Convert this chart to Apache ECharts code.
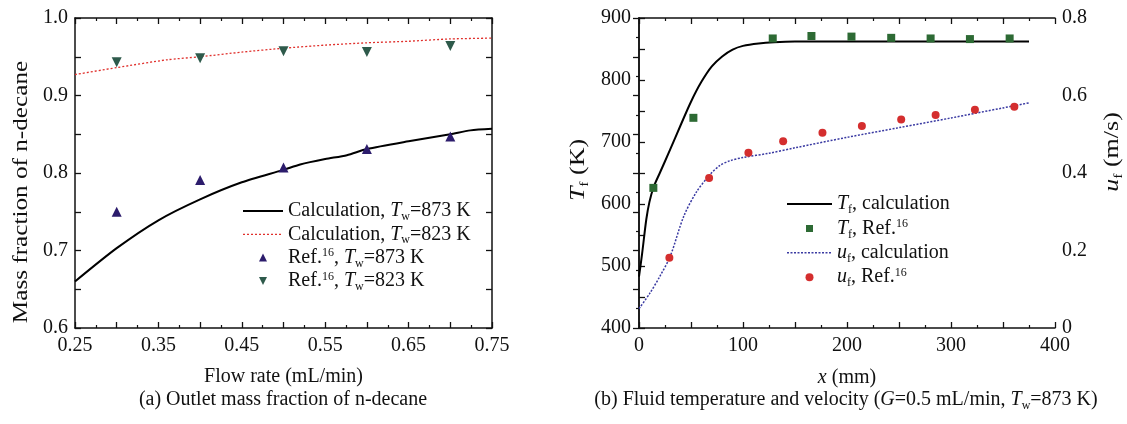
<!DOCTYPE html>
<html>
<head>
<meta charset="utf-8">
<script src="https://cdn.jsdelivr.net/npm/echarts@6/dist/echarts.min.js"></script>
<style>
html,body{margin:0;padding:0;background:#fff;}
#chart{width:1127px;height:424px;}
</style>
</head>
<body>
<div id="chart"></div>
<script>
// ---------- (a) Outlet mass fraction of n-decane ----------
const calc873Flow = [0.25, 0.30, 0.35, 0.40, 0.45, 0.50, 0.52, 0.55, 0.576, 0.60, 0.65, 0.70, 0.724, 0.75];
const calc873Mass = [0.660, 0.703, 0.739, 0.766, 0.788, 0.804, 0.811, 0.818, 0.823, 0.831, 0.841, 0.850, 0.855, 0.857];
const calc823Flow = [0.25, 0.30, 0.36, 0.40, 0.45, 0.50, 0.55, 0.60, 0.65, 0.70, 0.75];
const calc823Mass = [0.927, 0.936, 0.946, 0.950, 0.956, 0.961, 0.965, 0.968, 0.970, 0.973, 0.974];
const refFlow = [0.30, 0.40, 0.50, 0.60, 0.70];
const ref873Mass = [0.750, 0.791, 0.807, 0.831, 0.847];
const ref823Mass = [0.943, 0.948, 0.957, 0.956, 0.964];

// ---------- (b) Fluid temperature and velocity ----------
const tCalcX = [0, 3, 7, 10, 14, 20, 30, 40, 50, 60, 70, 80, 90, 100, 115, 130, 150, 250, 375];
const tCalcT = [483, 520, 575, 603, 627, 650, 688, 727, 765, 797, 822, 838, 849, 855, 859, 861, 862, 862, 862];
const tRefX = [13.8, 52.3, 128.6, 165.8, 204.3, 242.5, 280.4, 318.2, 356.4];
const tRefT = [626, 739, 867, 871, 870, 868, 867, 866, 867];
const uCalcX = [0, 10, 20, 30, 43, 55, 68, 78, 88, 100, 125, 150, 200, 250, 300, 350, 375];
const uCalcU = [0.050, 0.088, 0.133, 0.185, 0.288, 0.350, 0.395, 0.420, 0.432, 0.440, 0.451, 0.465, 0.492, 0.517, 0.542, 0.568, 0.581];
const uRefX = [29.2, 67.4, 105.2, 138.6, 176.4, 214.3, 252.1, 285.2, 323.0, 360.9];
const uRefU = [0.181, 0.387, 0.452, 0.482, 0.504, 0.521, 0.538, 0.550, 0.563, 0.571];

const FONT = 'Liberation Serif';
const INK = '#111';
const pairs = (xs, ys) => xs.map((x, i) => [x, ys[i]]);

function richSet(size) {
  return {
    i: {fontFamily: FONT, fontSize: size, fontStyle: 'italic', lineHeight: 22, color: INK},
    sub: {fontFamily: FONT, fontSize: Math.round(size * 0.6), lineHeight: 22, padding: [12, 0, 0, 0], color: INK},
    sup: {fontFamily: FONT, fontSize: Math.round(size * 0.6), lineHeight: 22, padding: [0, 0, 9, 0], color: INK}
  };
}

// legend icon paths (corner slivers fix the icon box so shapes keep their size)
function box(w, h) { return `M0,0 L0.01,0 L0,0.01 Z M${w},${h} L${w - 0.01},${h} L${w},${h - 0.01} Z`; }
function solidIcon(w, h, t) {
  return 'path://' + box(w, h) + ` M0,${(h - t) / 2} L${w},${(h - t) / 2} L${w},${(h + t) / 2} L0,${(h + t) / 2} Z`;
}
function dottedIcon(w, h, t, d, g) {
  let p = box(w, h);
  for (let x = 0; x < w - 0.5; x += d + g) {
    const x2 = Math.min(x + d, w);
    p += ` M${x},${(h - t) / 2} L${x2},${(h - t) / 2} L${x2},${(h + t) / 2} L${x},${(h + t) / 2} Z`;
  }
  return 'path://' + p;
}
function triUpIcon(w, h, s) {
  const cx = w / 2, cy = h / 2;
  return 'path://' + box(w, h) + ` M${cx - s / 2},${cy + s / 2} L${cx + s / 2},${cy + s / 2} L${cx},${cy - s / 2} Z`;
}
function triDownIcon(w, h, s) {
  const cx = w / 2, cy = h / 2;
  return 'path://' + box(w, h) + ` M${cx - s / 2},${cy - s / 2} L${cx + s / 2},${cy - s / 2} L${cx},${cy + s / 2} Z`;
}
function squareIcon(w, h, s) {
  const cx = w / 2, cy = h / 2;
  return 'path://' + box(w, h) + ` M${cx - s / 2},${cy - s / 2} L${cx + s / 2},${cy - s / 2} L${cx + s / 2},${cy + s / 2} L${cx - s / 2},${cy + s / 2} Z`;
}

const legendText = {
  calc873: 'Calculation, {i|T}{sub|w}=873 K',
  calc823: 'Calculation, {i|T}{sub|w}=823 K',
  ref873: 'Ref.{sup|16}, {i|T}{sub|w}=873 K',
  ref823: 'Ref.{sup|16}, {i|T}{sub|w}=823 K',
  Tcalc: '{i|T}{sub|f}, calculation',
  Tref: '{i|T}{sub|f}, Ref.{sup|16}',
  ucalc: '{i|u}{sub|f}, calculation',
  uref: '{i|u}{sub|f}, Ref.{sup|16}'
};

const axisLineStyle = {show: true, lineStyle: {color: INK, width: 1.5}};
const tickMajor = {show: true, inside: true, length: 6, lineStyle: {color: INK, width: 1.3}};
const tickMinor = (n) => ({show: true, splitNumber: n, length: 3, lineStyle: {color: INK, width: 1.2}});
const labelStyle = {fontFamily: FONT, fontSize: 20, color: INK};

function near(v, step) { return Math.abs(v / step - Math.round(v / step)) < 1e-6; }

const option = {
  animation: false,
  backgroundColor: '#fff',
  grid: [
    {left: 75, top: 18, width: 417, height: 310},
    {left: 639, top: 18, width: 416, height: 310}
  ],
  xAxis: [
    {
      gridIndex: 0, type: 'value', position: 'bottom', min: 0.25, max: 0.75, interval: 0.05,
      axisLine: axisLineStyle, axisTick: tickMajor, minorTick: tickMinor(2), splitLine: {show: false},
      axisLabel: Object.assign({margin: 8, formatter: v => near(v - 0.25, 0.1) ? v.toFixed(2) : ''}, labelStyle),
      name: 'Flow rate (mL/min)', nameLocation: 'middle', nameGap: 39,
      nameTextStyle: {fontFamily: FONT, fontSize: 20, color: INK}
    },
    {
      gridIndex: 0, type: 'value', position: 'top', min: 0.25, max: 0.75, interval: 0.05,
      axisLine: axisLineStyle, axisTick: tickMajor, minorTick: tickMinor(2), splitLine: {show: false},
      axisLabel: {show: false}
    },
    {
      gridIndex: 1, type: 'value', position: 'bottom', min: 0, max: 400, interval: 50,
      axisLine: axisLineStyle, axisTick: tickMajor, minorTick: tickMinor(2), splitLine: {show: false},
      axisLabel: Object.assign({margin: 8, formatter: v => near(v, 100) ? String(v) : ''}, labelStyle),
      name: '{i|x} (mm)', nameLocation: 'middle', nameGap: 39,
      nameTextStyle: {fontFamily: FONT, fontSize: 20, color: INK, rich: richSet(20)}
    },
    {
      gridIndex: 1, type: 'value', position: 'top', min: 0, max: 400, interval: 50,
      axisLine: axisLineStyle, axisTick: tickMajor, minorTick: tickMinor(2), splitLine: {show: false},
      axisLabel: {show: false}
    }
  ],
  yAxis: [
    {
      gridIndex: 0, type: 'value', position: 'left', min: 0.6, max: 1.0, interval: 0.05,
      axisLine: axisLineStyle, axisTick: tickMajor, splitLine: {show: false},
      axisLabel: Object.assign({margin: 7, formatter: v => near(v, 0.1) ? v.toFixed(1) : ''}, labelStyle)
    },
    {
      gridIndex: 0, type: 'value', position: 'right', min: 0.6, max: 1.0, interval: 0.05,
      axisLine: axisLineStyle, axisTick: tickMajor, splitLine: {show: false},
      axisLabel: {show: false}
    },
    {
      gridIndex: 1, type: 'value', position: 'left', min: 400, max: 900, interval: 50,
      axisLine: axisLineStyle, axisTick: tickMajor, splitLine: {show: false},
      axisLabel: Object.assign({margin: 8, formatter: v => near(v, 100) ? String(v) : ''}, labelStyle)
    },
    {
      gridIndex: 1, type: 'value', position: 'right', min: 0, max: 0.8, interval: 0.1,
      axisLine: axisLineStyle, axisTick: tickMajor, minorTick: tickMinor(2), splitLine: {show: false},
      axisLabel: Object.assign({margin: 7, formatter: v => near(v, 0.2) ? String(Math.round(v * 10) / 10) : ''}, labelStyle)
    }
  ],
  legend: [
    {
      orient: 'vertical', left: 243, top: 199, padding: 0, itemWidth: 40, itemHeight: 9, itemGap: -0.7,
      selectedMode: false, itemStyle: {borderWidth: 0},
      data: [
        {name: 'calc873', icon: solidIcon(40, 9, 2)},
        {name: 'calc823', icon: dottedIcon(40, 9, 1.3, 2, 2)},
        {name: 'ref873', icon: triUpIcon(40, 9, 8)},
        {name: 'ref823', icon: triDownIcon(40, 9, 8)}
      ],
      formatter: n => legendText[n],
      textStyle: {fontFamily: FONT, fontSize: 20, lineHeight: 22, color: INK, rich: richSet(20)}
    },
    {
      orient: 'vertical', left: 787, top: 192, padding: 0, itemWidth: 45, itemHeight: 8, itemGap: 0.4,
      selectedMode: false, itemStyle: {borderWidth: 0},
      data: [
        {name: 'Tcalc', icon: solidIcon(45, 8, 2)},
        {name: 'Tref', icon: squareIcon(45, 8, 7)},
        {name: 'ucalc', icon: dottedIcon(45, 8, 1.5, 2, 1.5)},
        {name: 'uref', icon: 'circle'}
      ],
      formatter: n => legendText[n],
      textStyle: {fontFamily: FONT, fontSize: 20, lineHeight: 22, color: INK, rich: richSet(20)}
    }
  ],
  series: [
    {
      name: 'calc873', type: 'line', xAxisIndex: 0, yAxisIndex: 0, symbol: 'none', smooth: 0.25,
      data: pairs(calc873Flow, calc873Mass), lineStyle: {color: '#000', width: 2}, itemStyle: {color: '#000'}, z: 2
    },
    {
      name: 'calc823', type: 'line', xAxisIndex: 0, yAxisIndex: 0, symbol: 'none', smooth: 0.25,
      data: pairs(calc823Flow, calc823Mass), lineStyle: {color: '#e0302c', width: 1.3, type: [2, 2]}, itemStyle: {color: '#e0302c'}, z: 2
    },
    {
      name: 'ref873', type: 'scatter', xAxisIndex: 0, yAxisIndex: 0, symbol: 'triangle', symbolSize: 10,
      data: pairs(refFlow, ref873Mass), itemStyle: {color: '#2c1c6c', opacity: 1}, z: 3
    },
    {
      name: 'ref823', type: 'scatter', xAxisIndex: 0, yAxisIndex: 0, symbol: 'path://M0,0 L10,0 L5,9 Z', symbolSize: 10,
      data: pairs(refFlow, ref823Mass), itemStyle: {color: '#2e5a4b', opacity: 1}, z: 3
    },
    {
      name: 'Tcalc', type: 'line', xAxisIndex: 2, yAxisIndex: 2, symbol: 'none', smooth: 0.3,
      data: pairs(tCalcX, tCalcT), lineStyle: {color: '#000', width: 2}, itemStyle: {color: '#000'}, z: 2
    },
    {
      name: 'Tref', type: 'scatter', xAxisIndex: 2, yAxisIndex: 2, symbol: 'rect', symbolSize: 8,
      data: pairs(tRefX, tRefT), itemStyle: {color: '#2d6a34', opacity: 1}, z: 3
    },
    {
      name: 'ucalc', type: 'line', xAxisIndex: 2, yAxisIndex: 3, symbol: 'none', smooth: 0.3,
      data: pairs(uCalcX, uCalcU), lineStyle: {color: '#3a3aa2', width: 1.5, type: [2, 1.5]}, itemStyle: {color: '#3a3aa2'}, z: 2
    },
    {
      name: 'uref', type: 'scatter', xAxisIndex: 2, yAxisIndex: 3, symbol: 'circle', symbolSize: 8,
      data: pairs(uRefX, uRefU), itemStyle: {color: '#d42e2e', opacity: 1}, z: 3
    }
  ],
  graphic: [
    {
      type: 'text', x: 22, y: 192, rotation: Math.PI / 2, scaleX: 1.26,
      style: {text: 'Mass fraction of n-decane', align: 'center', verticalAlign: 'middle',
        fontFamily: FONT, fontSize: 20, fill: INK}
    },
    {
      type: 'text', x: 579, y: 170, rotation: Math.PI / 2, scaleX: 1.3,
      style: {text: '{i|T}{sub|f} (K)', align: 'center', verticalAlign: 'middle',
        fontFamily: FONT, fontSize: 20, lineHeight: 22, fill: INK, rich: richSet(20)}
    },
    {
      type: 'text', x: 1113, y: 152, rotation: Math.PI / 2, scaleX: 1.3,
      style: {text: '{i|u}{sub|f} (m/s)', align: 'center', verticalAlign: 'middle',
        fontFamily: FONT, fontSize: 20, lineHeight: 22, fill: INK, rich: richSet(20)}
    },
    {
      type: 'text', x: 283, y: 400,
      style: {text: '(a) Outlet mass fraction of n-decane', align: 'center', verticalAlign: 'middle',
        fontFamily: FONT, fontSize: 20, fill: INK}
    },
    {
      type: 'text', x: 846, y: 400,
      style: {text: '(b) Fluid temperature and velocity ({i|G}=0.5 mL/min, {i|T}{sub|w}=873 K)', align: 'center', verticalAlign: 'middle',
        fontFamily: FONT, fontSize: 20, lineHeight: 22, fill: INK, rich: richSet(20)}
    }
  ]
};

const chart = echarts.init(document.getElementById('chart'), null, {renderer: 'canvas'});
chart.setOption(option);
</script>
</body>
</html>
